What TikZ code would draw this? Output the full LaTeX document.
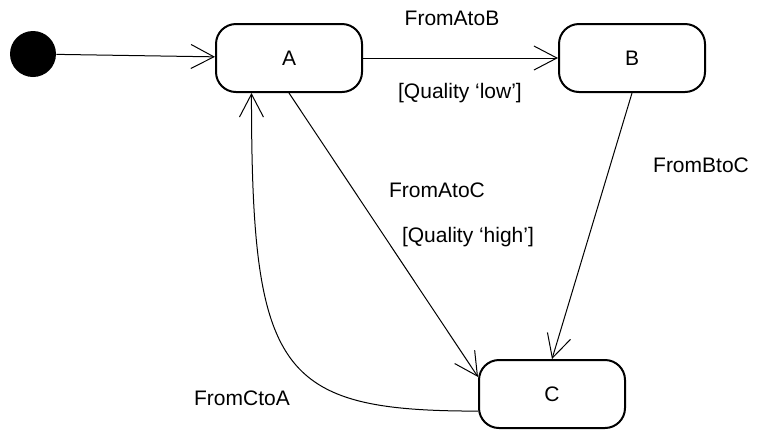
\documentclass[tikz,border=0pt]{standalone}
\usepackage{fontspec}
\setmainfont{Liberation Sans}
\usetikzlibrary{arrows.meta}

\begin{document}
\begin{tikzpicture}[x=0.5pt,y=-0.5pt,
		state/.style={draw,line width=1pt,rounded corners=10pt,minimum width=73pt,minimum height=34pt,font=\fontsize{10.5}{12}\selectfont},
		lbl/.style={font=\fontsize{10.5}{12}\selectfont,inner sep=0pt},
		trans/.style={-{Straight Barb[length=11.5pt,width=12pt]},line width=0.5pt}]
		\useasboundingbox (0,0) rectangle (759,430);
		\node[circle,fill=black,minimum size=23pt,inner sep=0pt] (init) at (33,54) {};
		\node[state] (A) at (289,58) {A};
		\node[state] (B) at (632,58) {B};
		\node[state] (C) at (552,394) {C};
		\node[lbl] (AtoB)  at (452,18)  {FromAtoB};
		\node[lbl] (lowq)  at (460,93)  {[Quality ‘low’]};
		\node[lbl] (AtoC)  at (437,190) {FromAtoC};
		\node[lbl] (highq) at (468,237) {[Quality ‘high’]};
		\node[lbl] (BtoC)  at (701,165) {FromBtoC};
		\node[lbl] (CtoA)  at (242,398) {FromCtoA};
		\draw[trans] (init) -- (A);
		\draw[trans] (A) -- (B);
		\draw[trans] (A.south) -- (C.167);
		\draw[trans] (B.south) -- (C.north);
		\draw[trans] (C.193) .. controls +(-200,0) and +(0,280) .. (A.223);
	\end{tikzpicture}
\end{document}
